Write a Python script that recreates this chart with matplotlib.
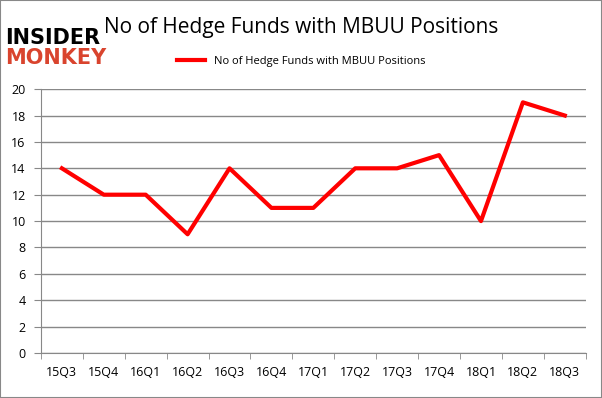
import matplotlib
matplotlib.use("Agg")
import matplotlib.pyplot as plt
import numpy as np

quarters = ["15Q3", "15Q4", "16Q1", "16Q2", "16Q3", "16Q4", "17Q1",
            "17Q2", "17Q3", "17Q4", "18Q1", "18Q2", "18Q3"]
funds = [14, 12, 12, 9, 14, 11, 11, 14, 14, 15, 10, 19, 18]
yticks = [0, 2, 4, 6, 8, 10, 12, 14, 16, 18, 20]

plt.rcParams['font.family'] = ['Open Sans', 'DejaVu Sans']

fig = plt.figure(figsize=(6.02, 3.98), dpi=100)
ax = fig.add_axes([0.068, 0.113, 0.905, 0.663])

x = np.arange(len(quarters))
line, = ax.plot(x, funds, color='#ff0000', lw=3,
                label="No of Hedge Funds with MBUU Positions")

ax.set_xlim(-0.5, len(quarters) - 0.5)
ax.set_ylim(0, 20)
ax.set_yticks(yticks)
ax.set_xticks(x)
ax.set_xticklabels(quarters, fontsize=9)
ax.set_xticks(np.arange(-0.5, len(quarters)), minor=True)
ax.tick_params(axis='x', which='major', length=0, pad=9)
ax.tick_params(axis='x', which='minor', length=4, color='#888888')
ax.tick_params(axis='y', length=5, color='#888888', labelsize=9, pad=6)
ax.grid(axis='y', color='#888888', lw=1)
ax.set_axisbelow(True)
for s in ['top', 'right']:
    ax.spines[s].set_visible(False)
for s in ['left', 'bottom']:
    ax.spines[s].set_color('#888888')

fig.legend(handles=[line], loc='center', bbox_to_anchor=(0.5, 0.845),
           frameon=False, fontsize=8, handlelength=2.5)
fig.text(0.5, 0.932, "No of Hedge Funds with MBUU Positions",
         ha='center', va='center', fontsize=15)

# logo
fig.text(0.008, 0.905, "INSIDER", fontsize=15, fontweight='bold',
         color='black', va='center', family='DejaVu Sans')
fig.text(0.008, 0.855, "MONKEY", fontsize=15, fontweight='bold',
         color='#d9442e', va='center', family='DejaVu Sans')

fig.patches.append(plt.Rectangle((0, 0), 1, 1, transform=fig.transFigure,
                                 fill=False, ec='#888888', lw=1.5))

fig.savefig("out.png", dpi=100)
